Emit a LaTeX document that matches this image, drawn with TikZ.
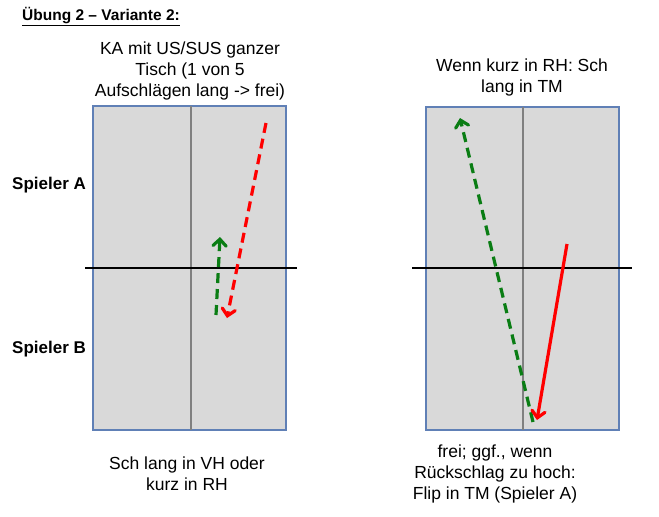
\documentclass[tikz,border=0pt]{standalone}
\usepackage{fontspec}
\setmainfont{Liberation Sans}
\usepackage{xcolor}
\usetikzlibrary{arrows}
\definecolor{tablegray}{RGB}{217,217,217}
\definecolor{tableblue}{RGB}{96,128,182}
\definecolor{ballred}{RGB}{255,0,0}
\definecolor{ballgreen}{RGB}{10,125,20}

\begin{document}
\begin{tikzpicture}[x=1pt,y=-1pt,>=angle 90]
\tikzstyle{every node}+=[inner sep=0pt]
\tikzstyle{tablebox}=[fill=tablegray,draw=tableblue,line width=2pt]
\tikzstyle{midline}=[draw=gray,line width=2pt]
\tikzstyle{netline}=[draw=black,line width=2pt]
\tikzstyle{label}=[font=\fontsize{17.5}{21}\selectfont,align=center]
\tikzstyle{player}=[font=\bfseries\fontsize{17}{20}\selectfont,anchor=west]
\tikzstyle{ball}=[line width=3.2pt,->]
\tikzstyle{balldash}=[ball,dash pattern=on 10pt off 6pt]
\useasboundingbox (0,0) rectangle (659,517);
% title and players
\node [anchor=west,font=\bfseries\fontsize{15.5}{18}\selectfont] (title) at (22,17) {\underline{Übung 2 – Variante 2:}};
\node [player] (spA) at (12,185) {Spieler A};
\node [player] (spB) at (12,349) {Spieler B};
% left table
\draw [tablebox] (93,106) rectangle (286,430);
\draw [midline] (191,106) -- (191,430);
\draw [netline] (85,268) -- (297,268);
\node [label] (topL) at (190,71) {KA mit US/SUS ganzer\\Tisch (1 von 5\\Aufschlägen lang -> frei)};
\node [label] (botL) at (187,474) {Sch lang in VH oder\\kurz in RH};
\coordinate (redL1) at (266,123);
\coordinate (redL2) at (227,318);
\coordinate (greenL1) at (216,315);
\coordinate (greenL2) at (220,237);
\draw [balldash,ballred] (redL1) -- (redL2);
\draw [balldash,ballgreen] (greenL1) -- (greenL2);
% right table
\draw [tablebox] (426,107) rectangle (619,430);
\draw [midline] (523,107) -- (523,430);
\draw [netline] (412,268) -- (632,268);
\node [label] (topR) at (522,77) {Wenn kurz in RH: Sch\\lang in TM};
\node [label] (botR) at (495,474) {frei; ggf., wenn\\Rückschlag zu hoch:\\Flip in TM (Spieler A)};
\coordinate (greenR1) at (533,422);
\coordinate (greenR2) at (460,118);
\coordinate (redR1) at (567,244);
\coordinate (redR2) at (537,420);
\draw [balldash,ballgreen] (greenR1) -- (greenR2);
\draw [ball,ballred] (redR1) -- (redR2);
\end{tikzpicture}
\end{document}
